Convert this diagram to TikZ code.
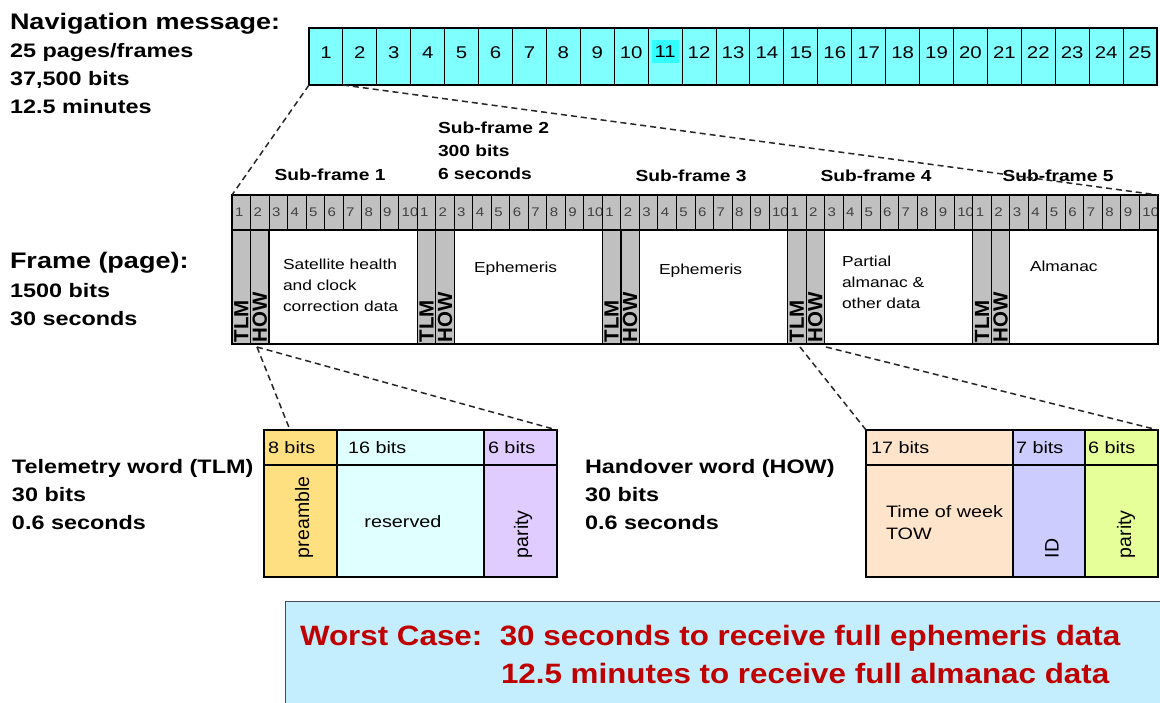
\documentclass[tikz,border=0pt]{standalone}
\usepackage{fontspec}
\setmainfont[FakeStretch=1.2]{Liberation Sans}
\newfontfamily\rotfont{Liberation Sans}
\newfontfamily\redfont[FakeStretch=1.12]{Liberation Sans}
\definecolor{navcyan}{HTML}{80FFFF}
\definecolor{navhi}{HTML}{33FFFF}
\definecolor{sfgray}{HTML}{C0C0C0}
\definecolor{preamb}{HTML}{FFE080}
\definecolor{resv}{HTML}{E0FFFF}
\definecolor{parA}{HTML}{E0CCFF}
\definecolor{towc}{HTML}{FFE4CC}
\definecolor{idc}{HTML}{CCCCFF}
\definecolor{parB}{HTML}{E6FF99}
\definecolor{wcfill}{HTML}{C4EEFD}
\definecolor{wcred}{HTML}{C00000}
\begin{document}
\begin{tikzpicture}[x=1pt,y=-1pt,
  every node/.style={inner sep=0pt,outer sep=0pt},
  hdr/.style={font=\bfseries\fontsize{22.5}{27}\selectfont,anchor=base west},
  subl/.style={font=\bfseries\fontsize{19.5}{24}\selectfont,anchor=base west},
  sflab/.style={font=\bfseries\fontsize{16}{19}\selectfont},
  navcell/.style={draw=black,line width=1pt,fill=navcyan,minimum width=33.92pt,minimum height=57pt},
  navnum/.style={font=\fontsize{17}{20}\selectfont},
  sfcell/.style={draw=black,line width=1pt,fill=sfgray,minimum width=18.52pt,minimum height=35pt,anchor=north west},
  sfnum/.style={font=\fontsize{12.5}{14}\selectfont,text=black!75,anchor=west},
  tlmcol/.style={draw=black,line width=1.2pt,fill=sfgray,minimum width=18.52pt,minimum height=114pt,anchor=north west},
  datacol/.style={draw=black,line width=1.2pt,fill=white,minimum width=148.16pt,minimum height=114pt,anchor=north west},
  rotlab/.style={rotate=90,anchor=west,font=\rotfont\bfseries\fontsize{20.5}{22}\selectfont},
  dtext/.style={font=\fontsize{14.5}{17}\selectfont,anchor=base west},
  wcell/.style={draw=black,line width=1.2pt,anchor=north west},
  wtext/.style={font=\fontsize{16.5}{19}\selectfont},
  wrot/.style={font=\rotfont\fontsize{19.5}{22}\selectfont,rotate=90,anchor=west},
  zoomline/.style={dashed,dash pattern=on 6pt off 4pt,line width=1.5pt,black!85},
  redtxt/.style={font=\redfont\bfseries\fontsize{28}{32}\selectfont,text=wcred,anchor=base west}
]
\useasboundingbox (0,0) rectangle (1160,702);
\clip (0,0) rectangle (1160,702);

% ---------- navigation message ----------
\node[hdr] (navh) at (10,29) {Navigation message:};
\node[subl] (nav1) at (10,57) {25 pages/frames};
\node[subl] (nav2) at (10,85) {37,500 bits};
\node[subl] (nav3) at (10,113) {12.5 minutes};

\foreach \i in {1,...,25}{
  \node[navcell] (n\i) at ({309+(\i-0.5)*33.92},56.5) {};
}
\foreach \i in {1,...,10}{
  \node[navnum] (nt\i) at ({309+(\i-0.5)*33.92},53) {\i};
}
\node[navnum,fill=navhi,minimum width=27pt,minimum height=23pt] (nt11) at ({309+10.5*33.92},51.5) {11};
\foreach \i in {12,...,25}{
  \node[navnum] (nt\i) at ({309+(\i-0.5)*33.92},53) {\i};
}
\draw[line width=1.6pt] (n1.north west) rectangle (n25.south east);

% ---------- frame ----------
\node[hdr] (frh) at (10,268) {Frame (page):};
\node[subl] (fr1) at (10,297) {1500 bits};
\node[subl] (fr2) at (10,325) {30 seconds};

\node[sflab] (sf1) at (330,175) {Sub-frame 1};
\node[sflab,anchor=base west] (sf2a) at (438,133) {Sub-frame 2};
\node[sflab,anchor=base west] (sf2b) at (438,156) {300 bits};
\node[sflab,anchor=base west] (sf2c) at (438,179) {6 seconds};
\node[sflab] (sf3) at (691,176) {Sub-frame 3};
\node[sflab] (sf4) at (876,176) {Sub-frame 4};
\node[sflab] (sf5) at (1058,176) {Sub-frame 5};

\foreach \s in {0,...,4}{
  \foreach \j in {1,...,10}{
    \node[sfcell] (c\s-\j) at ({232+(\s*10+\j-1)*18.52},195) {};
    \node[sfnum] (cn\s-\j) at ([xshift=3pt]c\s-\j.west) {\j};
  }
  \node[tlmcol] (t\s) at ({232+\s*185.2},230) {};
  \node[tlmcol] (h\s) at ({232+\s*185.2+18.52},230) {};
  \node[datacol] (d\s) at ({232+\s*185.2+37.04},230) {};
  \node[rotlab] (tl\s) at ([yshift=1.5pt]t\s.south) {TLM};
  \node[rotlab] (hl\s) at ([yshift=1.5pt]h\s.south) {HOW};
}
\draw[line width=1.8pt] (c0-1.north west) rectangle (d4.south east);

\node[dtext] (s1a) at (283,269) {Satellite health};
\node[dtext] (s1b) at (283,290) {and clock};
\node[dtext] (s1c) at (283,311) {correction data};
\node[dtext] (s2a) at (474,272) {Ephemeris};
\node[dtext] (s3a) at (659,274) {Ephemeris};
\node[dtext] (s4a) at (842,266) {Partial};
\node[dtext] (s4b) at (842,287) {almanac \&};
\node[dtext] (s4c) at (842,308) {other data};
\node[dtext] (s5a) at (1030,271) {Almanac};

% ---------- TLM ----------
\node[subl] (tlmh) at (12,473) {Telemetry word (TLM)};
\node[subl] (tlm1) at (12,501) {30 bits};
\node[subl] (tlm2) at (12,529) {0.6 seconds};

\node[wcell,fill=preamb,minimum width=73pt,minimum height=35pt] (th1) at (264,430) {};
\node[wcell,fill=resv,minimum width=147pt,minimum height=35pt] (th2) at (337,430) {};
\node[wcell,fill=parA,minimum width=73pt,minimum height=35pt] (th3) at (484,430) {};
\node[wcell,fill=preamb,minimum width=73pt,minimum height=112pt] (tb1) at (264,465) {};
\node[wcell,fill=resv,minimum width=147pt,minimum height=112pt] (tb2) at (337,465) {};
\node[wcell,fill=parA,minimum width=73pt,minimum height=112pt] (tb3) at (484,465) {};
\node[wtext,anchor=west] (th1t) at ([xshift=4pt]th1.west) {8 bits};
\node[wtext,anchor=west] (th2t) at ([xshift=11pt]th2.west) {16 bits};
\node[wtext,anchor=west] (th3t) at ([xshift=4pt]th3.west) {6 bits};
\node[wrot] (tb1t) at (304,558) {preamble};
\node[wtext] (tb2t) at (403,522) {reserved};
\node[wrot] (tb3t) at (523,558) {parity};

% ---------- HOW ----------
\node[subl] (howh) at (585,473) {Handover word (HOW)};
\node[subl] (how1) at (585,501) {30 bits};
\node[subl] (how2) at (585,529) {0.6 seconds};

\node[wcell,fill=towc,minimum width=147pt,minimum height=35pt] (hh1) at (866,430) {};
\node[wcell,fill=idc,minimum width=72pt,minimum height=35pt] (hh2) at (1013,430) {};
\node[wcell,fill=parB,minimum width=73pt,minimum height=35pt] (hh3) at (1085,430) {};
\node[wcell,fill=towc,minimum width=147pt,minimum height=112pt] (hb1) at (866,465) {};
\node[wcell,fill=idc,minimum width=72pt,minimum height=112pt] (hb2) at (1013,465) {};
\node[wcell,fill=parB,minimum width=73pt,minimum height=112pt] (hb3) at (1085,465) {};
\node[wtext,anchor=west] (hh1t) at ([xshift=5pt]hh1.west) {17 bits};
\node[wtext,anchor=west] (hh2t) at ([xshift=3pt]hh2.west) {7 bits};
\node[wtext,anchor=west] (hh3t) at ([xshift=3pt]hh3.west) {6 bits};
\node[wtext,anchor=base west] (hb1a) at (886,517) {Time of week};
\node[wtext,anchor=base west] (hb1b) at (886,539) {TOW};
\node[wrot] (hb2t) at (1052,558) {ID};
\node[wrot] (hb3t) at (1126,558) {parity};

% ---------- zoom lines ----------
\coordinate (tsrc) at (257,347);
\coordinate (tdst) at (290,430);
\coordinate (hsrcL) at (800,347);
\coordinate (hsrcR) at (826,347);
\draw[zoomline] (n1.south west) -- (c0-1.north west);
\draw[zoomline] (n1.south east) -- (c4-10.north east);
\draw[zoomline] (tsrc) -- (tdst);
\draw[zoomline] (tsrc) -- (th3.north east);
\draw[zoomline] (hsrcL) -- (hh1.north west);
\draw[zoomline] (hsrcR) -- (hh3.north east);

% ---------- worst case ----------
\node[draw=black!70,line width=1pt,fill=wcfill,anchor=north west,minimum width=890pt,minimum height=120pt] (wc) at (285,601) {};
\node[redtxt] (wc1) at (300,645) {Worst Case:\ \ 30 seconds to receive full ephemeris data};
\node[redtxt] (wc2) at (501,683) {12.5 minutes to receive full almanac data};
\end{tikzpicture}
\end{document}
